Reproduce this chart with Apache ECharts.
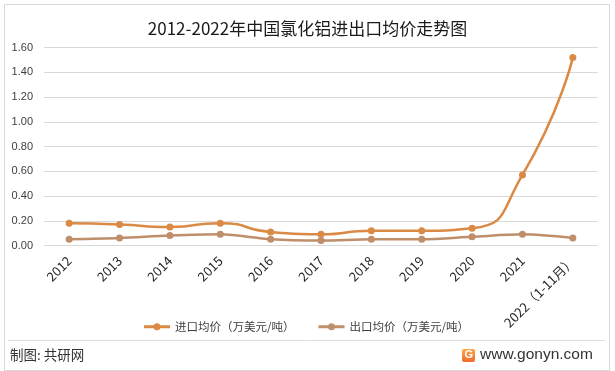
<!DOCTYPE html>
<html>
<head>
<meta charset="utf-8">
<script src="https://cdn.jsdelivr.net/npm/echarts@6/dist/echarts.min.js"></script>
<style>
html,body{margin:0;padding:0;background:#fff;}
#c{width:615px;height:371px;}
</style>
</head>
<body>
<div id="c"></div>
<script>
var categories = ['2012','2013','2014','2015','2016','2017','2018','2019','2020','2021','2022（1-11月）'];
var importPrice = [0.18,0.17,0.15,0.18,0.11,0.09,0.12,0.12,0.14,0.57,1.52];
var exportPrice = [0.05,0.06,0.08,0.09,0.05,0.04,0.05,0.05,0.07,0.09,0.06];
var yTicks = ['0.00','0.20','0.40','0.60','0.80','1.00','1.20','1.40','1.60'];
var seriesNames = ['进口均价（万美元/吨）','出口均价（万美元/吨）'];
var titleText = '2012-2022年中国氯化铝进出口均价走势图';

var chart = echarts.init(document.getElementById('c'), null, {renderer:'canvas'});
var legendIcon = 'path://M0,2.6H26V5.4H0Z M13,0.5A3.5,3.5 0 1 1 13,7.5A3.5,3.5 0 1 1 13,0.5Z';
var option = {
  backgroundColor:'#fff',
  animation:false,
  title:{text:titleText,left:'center',top:15,
    textStyle:{fontFamily:'Noto Sans CJK SC',fontSize:17,fontWeight:'normal',color:'#1a1a1a'}},
  legend:{left:139,top:316,itemWidth:26,itemHeight:8,itemGap:24,icon:legendIcon,
    data:seriesNames,
    textStyle:{fontFamily:'Noto Sans CJK SC',fontSize:11.5,color:'#404040'}},
  grid:{left:44,top:47.5,right:17,height:198},
  xAxis:{type:'category',data:categories,boundaryGap:true,
     axisLine:{show:false},axisTick:{show:false},
     axisLabel:{rotate:45,margin:13,interval:0,color:'#262626',fontSize:13,fontFamily:'Noto Sans CJK SC'}},
  yAxis:{type:'value',min:0,max:1.6,interval:0.2,
     axisLine:{show:false},axisTick:{show:false},
     splitLine:{lineStyle:{color:'#d9d9d9',width:1}},
     axisLabel:{margin:11,color:'#404040',fontSize:11,fontFamily:'Liberation Sans',
       formatter:function(v){return yTicks[Math.round(v/0.2)];}}},
  series:[
    {name:seriesNames[0],type:'line',data:importPrice,smooth:0.6,
     symbol:'circle',symbolSize:7,color:'#DB8A45',lineStyle:{width:2.5,color:'#DB8A45'},itemStyle:{color:'#DB8A45'}},
    {name:seriesNames[1],type:'line',data:exportPrice,smooth:0.3,
     symbol:'circle',symbolSize:7,color:'#BF8E6B',lineStyle:{width:2.5,color:'#BF8E6B'},itemStyle:{color:'#BF8E6B'}}
  ],
  graphic:[
    {type:'rect',left:2,top:2,shape:{width:605,height:366},style:{fill:'none',stroke:'#d9d9d9',lineWidth:1}},
    {type:'line',shape:{x1:8,y1:340.5,x2:605,y2:340.5},style:{stroke:'#e0e0e0',lineWidth:1}},
    {type:'text',left:10,top:348,style:{text:'制图: 共研网',font:'13.5px "Noto Sans CJK SC"',fill:'#333'}},
    {type:'rect',left:462,top:349,shape:{width:13,height:13,r:2},
     style:{fill:new echarts.graphic.LinearGradient(0,0,0,1,[{offset:0,color:'#f9a84a'},{offset:1,color:'#ef6a2c'}])}},
    {type:'text',left:464.5,top:349.5,style:{text:'G',font:'bold 11px "Liberation Sans"',fill:'#fff'}},
    {type:'text',left:480,top:347,style:{text:'www.gonyn.com',font:'15.5px "Liberation Sans"',fill:'#333'}}
  ]
};
chart.setOption(option);
</script>
</body>
</html>
